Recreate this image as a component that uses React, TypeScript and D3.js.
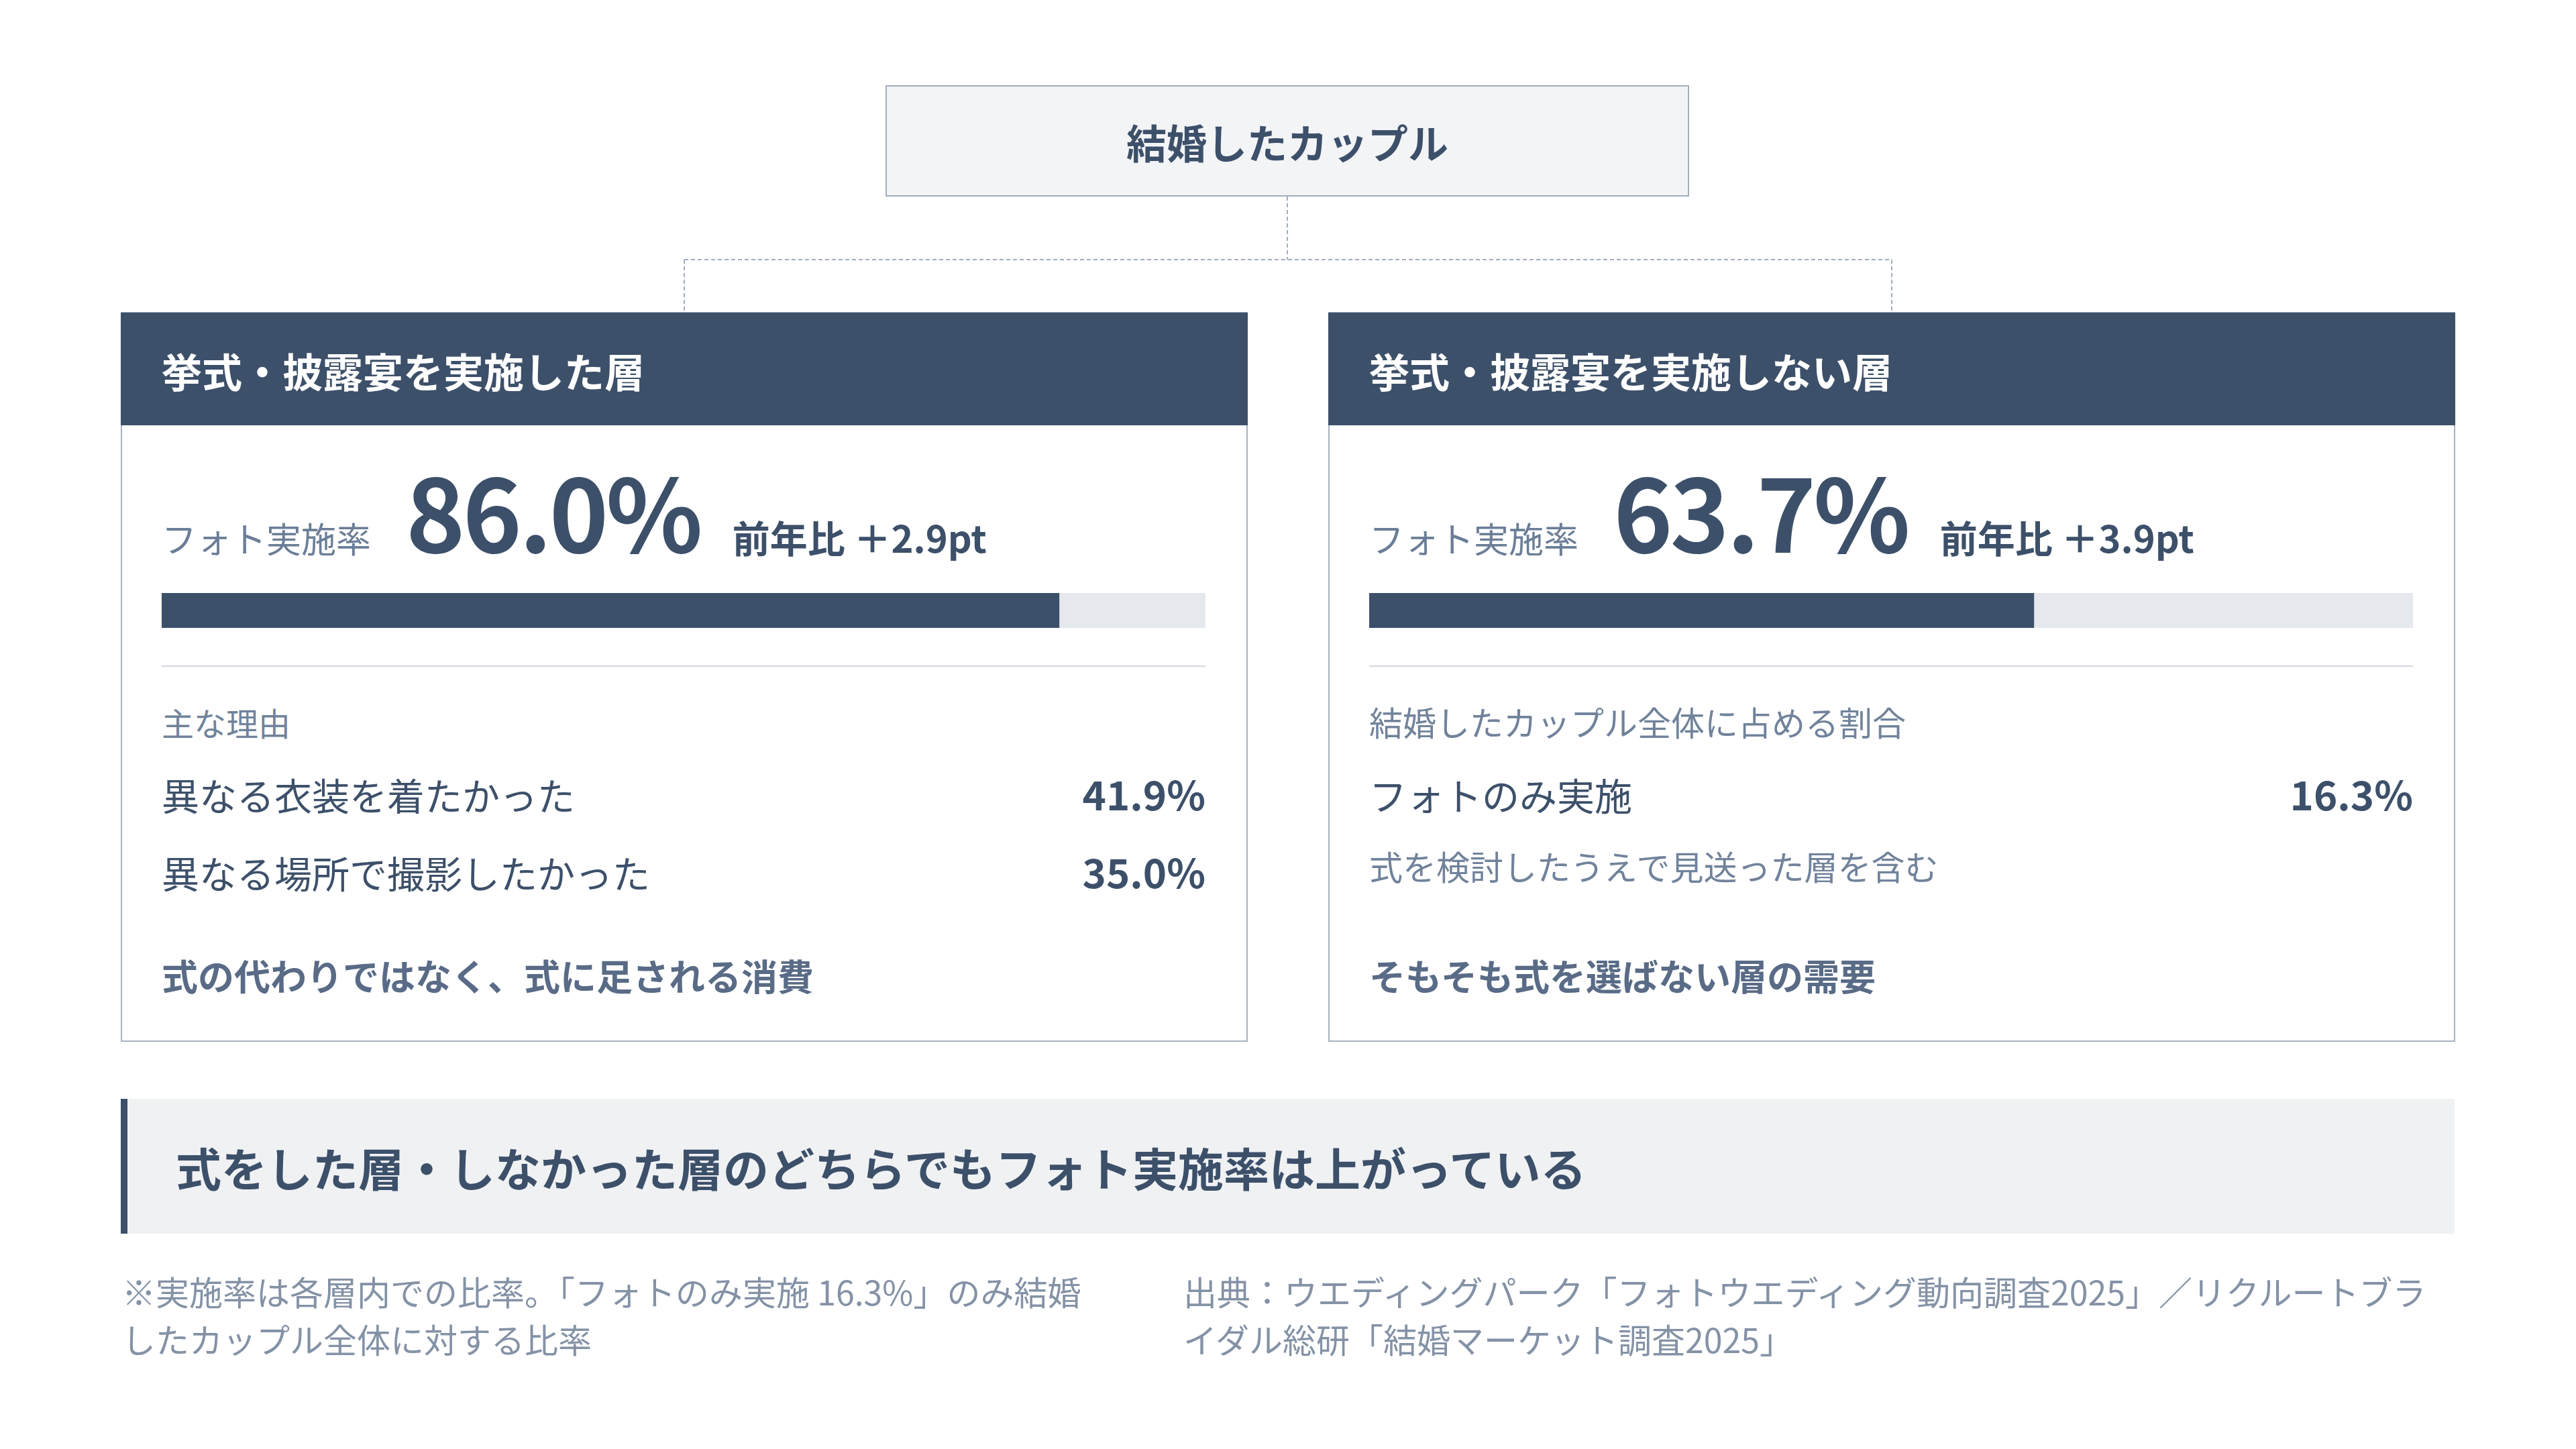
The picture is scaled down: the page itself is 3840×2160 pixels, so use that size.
import React from "react";
import * as d3 from "d3";

const rootTitle = "結婚したカップル";
const groupTitles = ["挙式・披露宴を実施した層", "挙式・披露宴を実施しない層"];
const rateLabel = "フォト実施率";
const photoRates = [86.0, 63.7];
const yoyChange = ["前年比 ＋2.9pt", "前年比 ＋3.9pt"];
const sectionLabels = ["主な理由", "結婚したカップル全体に占める割合"];
const leftRowLabels = ["異なる衣装を着たかった", "異なる場所で撮影したかった"];
const leftRowValues = [41.9, 35.0];
const rightRowLabels = ["フォトのみ実施"];
const rightRowValues = [16.3];
const rightNote = "式を検討したうえで見送った層を含む";
const summaries = ["式の代わりではなく、式に足される消費", "そもそも式を選ばない層の需要"];
const bannerText = "式をした層・しなかった層のどちらでもフォト実施率は上がっている";
const noteLeft = ["※実施率は各層内での比率。「フォトのみ実施 16.3%」のみ結婚", "したカップル全体に対する比率"];
const noteRight = ["出典：ウエディングパーク「フォトウエディング動向調査2025」／リクルートブラ", "イダル総研「結婚マーケット調査2025」"];

const FONT = "'Noto Sans CJK JP', 'Noto Sans', sans-serif";
const NAVY = "#3d506a";
const TRACK = "#e5e8ec";
const BORDER = "#a9b3c0";
const SUB = "#71839b";
const SUMMARY = "#596b86";
const FOOT = "#8492a6";

const W = 3840;
const H = 2160;

const cardX = [180, 1980];
const cardY = 466;
const cardW = 1680;
const cardH = 1087;
const headerH = 168;
const pad = 61;
const barW = 1556;

const fmt = (v: number) => d3.format(".1f")(v) + "%";

function Card({ i }: { i: number }) {
  const x0 = cardX[i];
  const cx = x0 + pad;
  const xr = x0 + pad + barW;
  const xScale = d3.scaleLinear().domain([0, 100]).range([0, barW]);
  const rowLabels = i === 0 ? leftRowLabels : rightRowLabels;
  const rowValues = i === 0 ? leftRowValues : rightRowValues;
  return (
    <g>
      <rect x={x0 + 1} y={cardY} width={cardW - 2} height={cardH - 1} fill="#ffffff" stroke={BORDER} strokeWidth={2} />
      <rect x={x0} y={cardY} width={cardW} height={headerH} fill={NAVY} />
      <text x={cx} y={578} fill="#ffffff" fontSize={60} fontWeight={700}>
        {groupTitles[i]}
      </text>
      <text x={cx} y={824} fill={NAVY}>
        <tspan fontSize={52} fill="#6b7e97" fontWeight={400}>{rateLabel}</tspan>
        <tspan dx={52} fontSize={150} fontWeight={700} letterSpacing={-4}>{fmt(photoRates[i])}</tspan>
        <tspan dx={48} fontSize={56} fontWeight={700}>{yoyChange[i]}</tspan>
      </text>
      <rect x={cx} y={884} width={xScale(100)} height={52} fill={TRACK} />
      <rect x={cx} y={884} width={xScale(photoRates[i])} height={52} fill={NAVY} />
      <line x1={cx} x2={xr} y1={993} y2={993} stroke="#d3d8df" strokeWidth={2} />
      <text x={cx} y={1097} fill={SUB} fontSize={i === 0 ? 48 : 50}>
        {sectionLabels[i]}
      </text>
      {rowLabels.map((lab, k) => (
        <g key={k}>
          <text x={cx} y={1208 + k * 116} fill={NAVY} fontSize={56}>
            {lab}
          </text>
          <text x={xr} y={1208 + k * 116} fill={NAVY} fontSize={60} fontWeight={700} textAnchor="end">
            {fmt(rowValues[k])}
          </text>
        </g>
      ))}
      {i === 1 && (
        <text x={cx} y={1312} fill={SUB} fontSize={50}>
          {rightNote}
        </text>
      )}
      <text x={cx} y={1477} fill={SUMMARY} fontSize={54} fontWeight={700}>
        {summaries[i]}
      </text>
    </g>
  );
}

export default function App() {
  const rootCx = 1919;
  return (
    <svg
      width={W}
      height={H}
      viewBox={`0 0 ${W} ${H}`}
      style={{ position: "absolute", left: 0, top: 0, display: "block", background: "#ffffff" }}
      fontFamily={FONT}
    >
      <rect x={0} y={0} width={W} height={H} fill="#ffffff" />
      {/* root box */}
      <rect x={1321} y={128} width={1196} height={164} fill="#f3f4f6" stroke="#a3aebc" strokeWidth={2} />
      <text x={rootCx} y={237} fill={NAVY} fontSize={60} fontWeight={700} textAnchor="middle">
        {rootTitle}
      </text>
      {/* connectors */}
      <g stroke="#a3adbb" strokeWidth={2} strokeDasharray="6 4" fill="none">
        <line x1={rootCx} x2={rootCx} y1={293} y2={387} />
        <line x1={cardX[0] + cardW / 2} x2={cardX[1] + cardW / 2} y1={387} y2={387} />
        <line x1={cardX[0] + cardW / 2} x2={cardX[0] + cardW / 2} y1={387} y2={cardY} />
        <line x1={cardX[1] + cardW / 2} x2={cardX[1] + cardW / 2} y1={387} y2={cardY} />
      </g>
      <Card i={0} />
      <Card i={1} />
      {/* banner */}
      <rect x={180} y={1638} width={3479} height={201} fill="#eff1f3" />
      <rect x={180} y={1638} width={10} height={201} fill={NAVY} />
      <text x={262} y={1769} fill={NAVY} fontSize={68} fontWeight={700}>
        {bannerText}
      </text>
      {/* footnotes */}
      {noteLeft.map((t, k) => (
        <text key={"l" + k} x={182} y={1946 + k * 71} fill={FOOT} fontSize={50}>
          {t}
        </text>
      ))}
      {noteRight.map((t, k) => (
        <text key={"r" + k} x={1764} y={1946 + k * 71} fill={FOOT} fontSize={50}>
          {t}
        </text>
      ))}
    </svg>
  );
}
